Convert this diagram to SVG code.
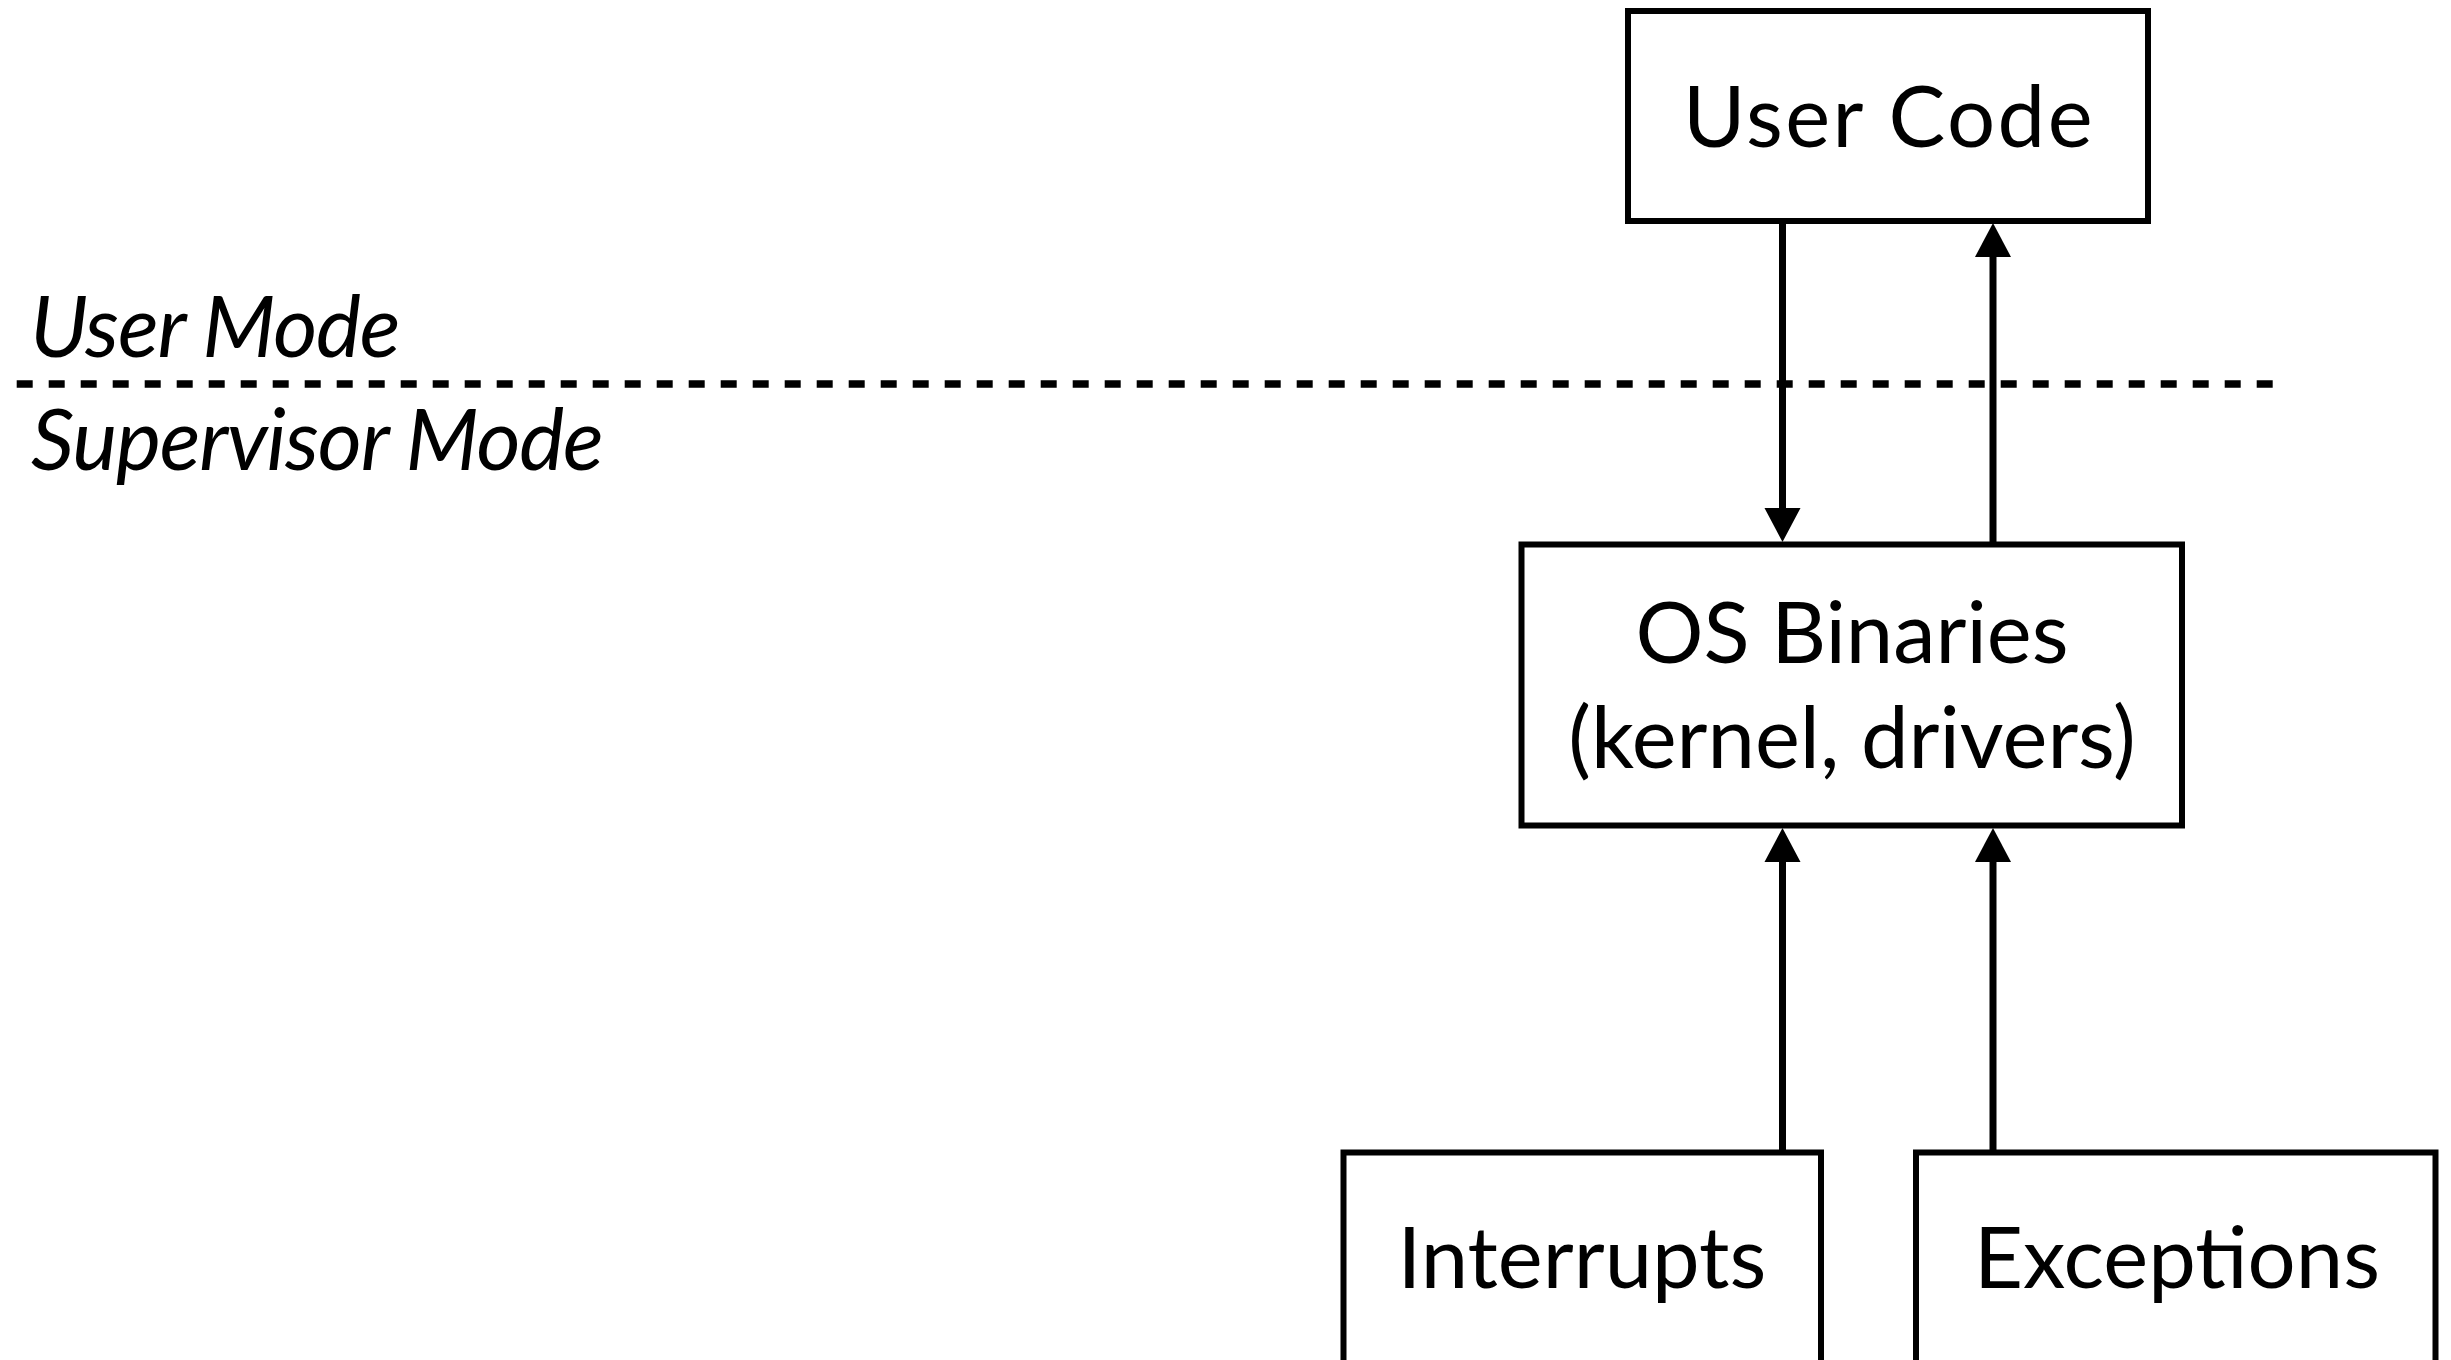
<svg xmlns="http://www.w3.org/2000/svg" width="2451" height="1360" viewBox="0 0 2451 1360">
  <style>
    .box { fill: #ffffff; stroke: #000000; stroke-width: 6; }
    .label { font-family: Lato, "Open Sans", "Liberation Sans", sans-serif; font-size: 85px; fill: #000000; text-anchor: middle; }
    .mode { font-family: Lato, "Open Sans", "Liberation Sans", sans-serif; font-size: 85px; font-style: italic; fill: #000000; letter-spacing: -1.2px; }
    .edge { stroke: #000000; stroke-width: 7; fill: none; }
    .divider { stroke: #000000; stroke-width: 7.5; stroke-dasharray: 16 16; fill: none; }
  </style>
  <defs>
    <marker id="head" markerUnits="userSpaceOnUse" markerWidth="34" markerHeight="36" refX="13" refY="18" orient="auto" overflow="visible">
      <path d="M0,0 L34,18 L0,36 Z" fill="#000000"/>
    </marker>
  </defs>

  <rect width="2451" height="1360" fill="#ffffff"/>

  <!-- privilege boundary -->
  <g id="boundary">
    <line class="divider" x1="16.7" y1="384" x2="2274" y2="384"/>
    <text class="mode" x="30" y="357">User Mode</text>
    <text class="mode" x="31" y="470">Supervisor Mode</text>
  </g>

  <g id="user-code">
    <rect class="box" x="1628" y="11" width="520" height="210"/>
    <text class="label" x="1889" y="147" style="letter-spacing:2.5px">User Code</text>
  </g>

  <g id="os-binaries">
    <rect class="box" x="1521.5" y="544.5" width="660.5" height="281"/>
    <text class="label" x="1852" y="663">OS Binaries</text>
    <text class="label" x="1852" y="768">(kernel, drivers)</text>
  </g>

  <g id="interrupts">
    <rect class="box" x="1343.5" y="1152.5" width="477.5" height="230"/>
    <text class="label" x="1582" y="1288">Interrupts</text>
  </g>

  <g id="exceptions">
    <rect class="box" x="1916" y="1152.5" width="519.5" height="230"/>
    <text class="label" x="2177" y="1288">Exceptions</text>
  </g>

  <g id="connectors">
    <line class="edge" x1="1782.5" y1="221" x2="1782.5" y2="521" marker-end="url(#head)"/>
    <line class="edge" x1="1993" y1="544" x2="1993" y2="244" marker-end="url(#head)"/>
    <line class="edge" x1="1782.5" y1="1152" x2="1782.5" y2="849" marker-end="url(#head)"/>
    <line class="edge" x1="1993" y1="1152" x2="1993" y2="849" marker-end="url(#head)"/>
  </g>
</svg>
